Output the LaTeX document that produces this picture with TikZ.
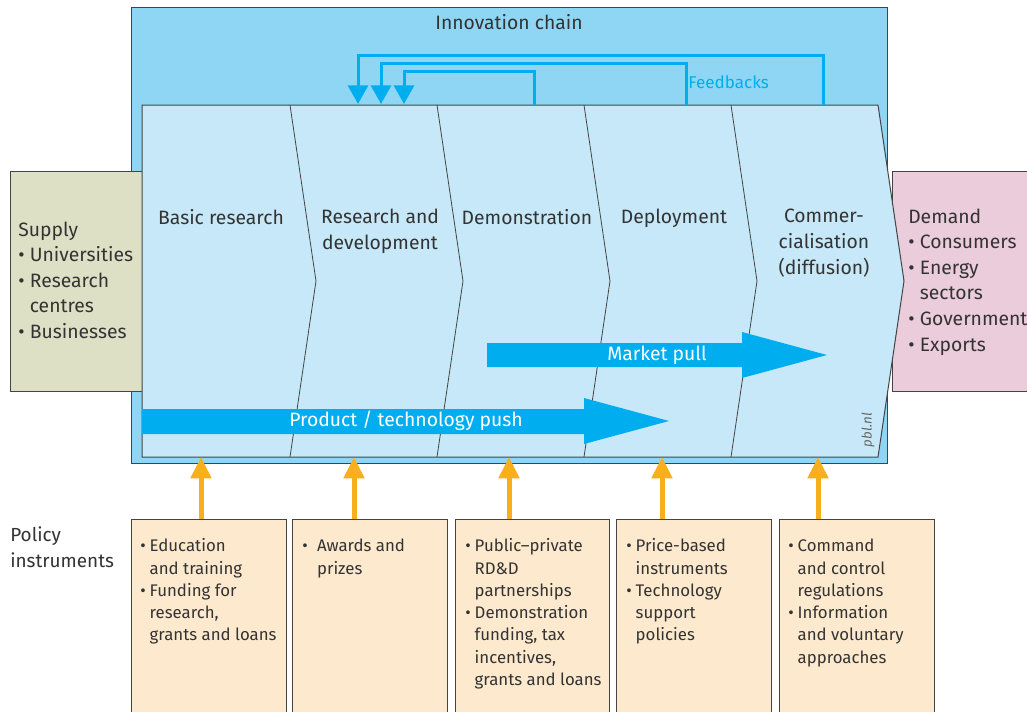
\documentclass[tikz,border=0pt]{standalone}
\usepackage{fontspec}
\setmainfont{Fira Sans}
\usetikzlibrary{arrows.meta}
\definecolor{outerblue}{HTML}{8FD6F5}
\definecolor{panel}{HTML}{C7E8F8}
\definecolor{arrowblue}{HTML}{00AEEF}
\definecolor{supplyc}{HTML}{DEE0C5}
\definecolor{demandc}{HTML}{EBCCDA}
\definecolor{policyc}{HTML}{FDE9CD}
\definecolor{polorange}{HTML}{F9AE1B}
\definecolor{txt}{HTML}{333333}
\definecolor{edge}{HTML}{444444}
\begin{document}
\begin{tikzpicture}[x=0.75pt,y=-0.75pt,
  rbox/.style={draw=edge, line width=0.75pt, inner sep=0pt, anchor=north west},
  lbl/.style={inner sep=0pt, text=txt, font=\fontsize{14.5}{19.2}\selectfont, align=center, anchor=north},
  side/.style={inner sep=0pt, text=txt, font=\fontsize{14.5}{19.2}\selectfont, anchor=north west},
  pol/.style={inner sep=0pt, text=txt, font=\fontsize{12.6}{16.7}\selectfont, anchor=north west},
  fb/.style={draw=arrowblue, line width=2.25pt, -{Triangle[length=14pt,width=15pt]}},
  oarr/.style={draw=polorange, line width=3.75pt, -{Triangle[length=16pt,width=15pt]}},
  bigarrow/.style={fill=arrowblue, draw=none},
  wlbl/.style={text=white, inner sep=0pt, font=\fontsize{14.5}{19.2}\selectfont}
]
\useasboundingbox (0,0) rectangle (1027,711);
\clip (0,0) rectangle (1027,711);
\fill[white] (0,0) rectangle (1027,711);

% outer innovation chain box
\node[rbox, fill=outerblue, minimum width=756*0.75pt, minimum height=456*0.75pt] (chain) at (131,7) {};
\node[lbl, anchor=center] (title) at (509,22) {Innovation chain};

% supply and demand
\node[rbox, fill=supplyc, minimum width=132*0.75pt, minimum height=220*0.75pt] (supply) at (10,171) {};
\node[rbox, fill=demandc, minimum width=150*0.75pt, minimum height=220*0.75pt] (demand) at (892,171) {};

% chevron strip
\draw[draw=edge, line width=0.75pt, fill=panel] (142,105) -- (878,105) -- (904,281) -- (878,457) -- (142,457) -- cycle;
\foreach \x in {290,437,584,731}
  \draw[draw=edge, line width=0.6pt] (\x,105) -- (\x+26,281) -- (\x,457);

% stage labels
\node[lbl] (basic) at (221,209) {Basic research};
\node[lbl] (rd) at (380,209) {Research and\\development};
\node[lbl] (demo) at (527,209) {Demonstration};
\node[lbl] (depl) at (674,209) {Deployment};
\node[lbl] (comm) at (824,209) {Commer-\\cialisation\\(diffusion)};

% supply text
\node[side] (supplytxt) at (18,218) {\begin{tabular}{@{}l@{\hspace{4pt}}l@{}}
\multicolumn{2}{@{}l@{}}{Supply}\\
• & Universities\\
• & Research\\
  & centres\\
• & Businesses
\end{tabular}};

% demand text
\node[side] (demandtxt) at (908,205) {\begin{tabular}{@{}l@{\hspace{4pt}}l@{}}
\multicolumn{2}{@{}l@{}}{Demand}\\
• & Consumers\\
• & Energy\\
  & sectors\\
• & Government\\
• & Exports
\end{tabular}};

% feedbacks
\coordinate (f1s) at (823,105); \coordinate (f1t) at (358,104);
\coordinate (f2s) at (686,105); \coordinate (f2t) at (381,104);
\coordinate (f3s) at (534,105); \coordinate (f3t) at (404,104);
\draw[fb] (f1s) -- ++(0,-50) -| (f1t);
\draw[fb] (f2s) -- ++(0,-42) -| (f2t);
\draw[fb] (f3s) -- ++(0,-34) -| (f3t);
\node[inner sep=0pt, anchor=west, text=arrowblue, font=\fontsize{12.8}{15}\selectfont] (fbl) at (688,82) {Feedbacks};

% market pull
\path[bigarrow] (487,343) -- (742,343) -- (742,332) -- (827,355) -- (742,378) -- (742,367) -- (487,367) -- cycle;
\node[wlbl] (pull) at (657,355) {Market pull};
% technology push
\path[bigarrow] (142,409) -- (584,409) -- (584,398) -- (669,421) -- (584,444) -- (584,434) -- (142,434) -- cycle;
\node[wlbl] (push) at (406,421) {Product / technology push};

\node[rotate=90, inner sep=0pt, text=black!60, font=\fontsize{10}{10}\selectfont\itshape] (pbl) at (868,430) {pbl.nl};

% policy instruments
\node[side, font=\fontsize{14.2}{19.5}\selectfont, align=left] (poltitle) at (10,526) {Policy\\instruments};

\node[rbox, fill=policyc, minimum width=155*0.75pt, minimum height=220*0.75pt] (p1) at (131,519) {};
\node[rbox, fill=policyc, minimum width=155*0.75pt, minimum height=220*0.75pt] (p2) at (292,519) {};
\node[rbox, fill=policyc, minimum width=154*0.75pt, minimum height=220*0.75pt] (p3) at (455,519) {};
\node[rbox, fill=policyc, minimum width=155*0.75pt, minimum height=220*0.75pt] (p4) at (616,519) {};
\node[rbox, fill=policyc, minimum width=155*0.75pt, minimum height=220*0.75pt] (p5) at (779,519) {};

\node[pol] (t1) at (140,536) {\begin{tabular}{@{}l@{\hspace{3pt}}l@{}}
• & Education\\ & and training\\ • & Funding for\\ & research,\\ & grants and loans\end{tabular}};
\node[pol] (t2) at (302,536) {\begin{tabular}{@{}l@{\hspace{7pt}}l@{}}
• & Awards and\\ & prizes\end{tabular}};
\node[pol] (t3) at (465,536) {\begin{tabular}{@{}l@{\hspace{3pt}}l@{}}
• & Public–private\\ & RD\&D\\ & partnerships\\ • & Demonstration\\ & funding, tax\\ & incentives,\\ & grants and loans\end{tabular}};
\node[pol] (t4) at (626,536) {\begin{tabular}{@{}l@{\hspace{3pt}}l@{}}
• & Price-based\\ & instruments\\ • & Technology\\ & support\\ & policies\end{tabular}};
\node[pol] (t5) at (788,536) {\begin{tabular}{@{}l@{\hspace{3pt}}l@{}}
• & Command\\ & and control\\ & regulations\\ • & Information\\ & and voluntary\\ & approaches\end{tabular}};

% orange arrows
\coordinate (a1) at (201,457);
\coordinate (a2) at (354,457);
\coordinate (a3) at (509,457);
\coordinate (a4) at (662,457);
\coordinate (a5) at (818,457);
\draw[oarr] (p1.north -| a1) -- (a1);
\draw[oarr] (p2.north -| a2) -- (a2);
\draw[oarr] (p3.north -| a3) -- (a3);
\draw[oarr] (p4.north -| a4) -- (a4);
\draw[oarr] (p5.north -| a5) -- (a5);
\end{tikzpicture}
\end{document}
